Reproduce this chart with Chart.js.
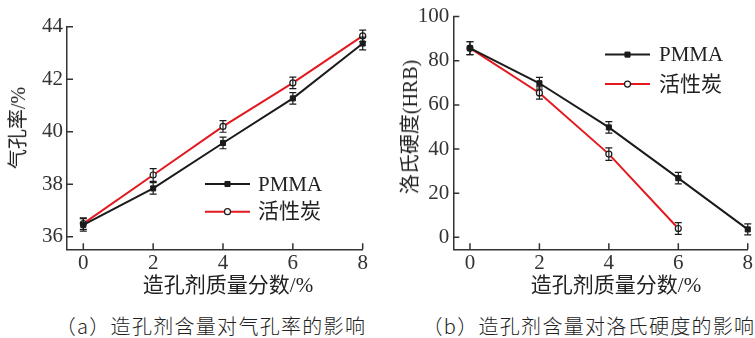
<!DOCTYPE html>
<html>
<head>
<meta charset="utf-8">
<script src="https://cdn.jsdelivr.net/npm/chart.js@4.4.1/dist/chart.umd.min.js"></script>
<style>
  html, body { margin: 0; padding: 0; background: #fff; }
  #wrap { position: relative; width: 755px; height: 338px; overflow: hidden;
          font-family: "Liberation Serif", "Noto Sans CJK SC", serif; color: #222; }
  .cv { position: absolute; top: 0; }
  .t { position: absolute; white-space: nowrap; font-size: 21px; line-height: 1;
       transform: translate(-50%, -50%); }
  .ty { transform: translate(-50%, -50%) rotate(-90deg); }
  .cap { font-family: "Noto Sans CJK SC", sans-serif; font-size: 20px; font-weight: 300;
         letter-spacing: 1.3px; }
</style>
</head>
<body>
<div id="wrap">
  <canvas id="porosity" class="cv" style="left:0" width="380" height="300"></canvas>
  <canvas id="hardness" class="cv" style="left:380px" width="375" height="300"></canvas>

  <div class="t" style="left:228px; top:285px">造孔剂质量分数/%</div>
  <div class="t ty" style="left:18px; top:128px; font-size:20px">气孔率/%</div>
  <div class="t" style="left:616px; top:285px">造孔剂质量分数/%</div>
  <div class="t ty" style="left:410px; top:127px; font-size:20px">洛氏硬度(HRB)</div>

  <div class="t cap" style="left:211px; top:326px">（a）造孔剂含量对气孔率的影响</div>
  <div class="t cap" style="left:589px; top:326px">（b）造孔剂含量对洛氏硬度的影响</div>
</div>

<script>
// Pore-former mass fraction (%)
const massFraction = [0, 2, 4, 6, 8];
const carbonFraction = [0, 2, 4, 6];

// Porosity (%) with standard deviation
const porosityPMMA = [36.45, 37.84, 39.57, 41.27, 43.36];
const porosityPMMAErr = [0.24, 0.22, 0.22, 0.22, 0.24];
const porosityCarbon = [36.5, 38.35, 40.2, 41.86, 43.65];
const porosityCarbonErr = [0.22, 0.24, 0.22, 0.22, 0.22];

// Rockwell hardness (HRB) with standard deviation
const hardnessPMMA = [85.7, 69.8, 49.8, 26.8, 3.6];
const hardnessPMMAErr = [2.9, 2.7, 2.6, 2.6, 2.5];
const hardnessCarbon = [85.7, 65.4, 37.7, 4.0];
const hardnessCarbonErr = [2.9, 2.8, 2.8, 2.7];

// Tick values
const xTicks = [0, 2, 4, 6, 8];
const porosityTicks = [36, 38, 40, 42, 44];
const hardnessTicks = [0, 20, 40, 60, 80, 100];

const seriesNames = ['PMMA', '活性炭'];

const AXIS_COLOR = '#333';
const BLACK = '#1b1b1b';
const RED = '#e3191f';
const TICK_FONT = { family: '"Liberation Serif", serif', size: 21 };

const toPoints = (xs, ys) => xs.map((x, i) => ({ x, y: ys[i] }));

// Short tick marks pointing into the plot area
const inwardTicks = {
  id: 'inwardTicks',
  afterDraw(chart, args, opts) {
    const { ctx, chartArea } = chart;
    const len = opts.length || 6;
    ctx.save();
    ctx.strokeStyle = AXIS_COLOR;
    ctx.lineWidth = 1.5;
    ctx.beginPath();
    const xs = chart.scales.x, ys = chart.scales.y;
    xs.ticks.forEach(t => {
      const px = xs.getPixelForValue(t.value);
      ctx.moveTo(px, chartArea.bottom);
      ctx.lineTo(px, chartArea.bottom - len);
    });
    ys.ticks.forEach(t => {
      const py = ys.getPixelForValue(t.value);
      ctx.moveTo(chartArea.left, py);
      ctx.lineTo(chartArea.left + len, py);
    });
    ctx.stroke();
    ctx.restore();
  }
};

// Vertical error bars with caps
const errorBars = {
  id: 'errorBars',
  afterDatasetsDraw(chart) {
    const { ctx } = chart;
    const ys = chart.scales.y;
    ctx.save();
    ctx.strokeStyle = BLACK;
    ctx.lineWidth = 1.2;
    chart.data.datasets.forEach((ds, di) => {
      const meta = chart.getDatasetMeta(di);
      if (!ds.errors) return;
      meta.data.forEach((pt, i) => {
        const v = ds.data[i].y, e = ds.errors[i];
        const top = ys.getPixelForValue(v + e);
        const bot = ys.getPixelForValue(v - e);
        const cap = 3.5;
        ctx.beginPath();
        ctx.moveTo(pt.x, top); ctx.lineTo(pt.x, bot);
        ctx.moveTo(pt.x - cap, top); ctx.lineTo(pt.x + cap, top);
        ctx.moveTo(pt.x - cap, bot); ctx.lineTo(pt.x + cap, bot);
        ctx.stroke();
      });
    });
    ctx.restore();
  }
};

// Line-and-marker legend placed inside the plot area
const sampleLegend = {
  id: 'sampleLegend',
  afterDraw(chart, args, opts) {
    const { ctx, chartArea } = chart;
    ctx.save();
    chart.data.datasets.forEach((ds, i) => {
      const x0 = chartArea.left + opts.dx;
      const y = chartArea.top + opts.dy + i * opts.rowGap;
      ctx.strokeStyle = ds.borderColor;
      ctx.lineWidth = ds.borderWidth;
      ctx.beginPath();
      ctx.moveTo(x0, y);
      ctx.lineTo(x0 + opts.lineLen, y);
      ctx.stroke();
      ctx.fillStyle = ds.pointBackgroundColor;
      ctx.strokeStyle = ds.pointBorderColor;
      ctx.lineWidth = ds.pointBorderWidth;
      Chart.helpers.drawPoint(ctx, {
        pointStyle: ds.pointStyle, radius: ds.pointRadius,
        borderWidth: ds.pointBorderWidth, rotation: 0
      }, x0 + opts.lineLen / 2, y);
      ctx.fillStyle = '#222';
      ctx.font = '21px "Liberation Serif", "Noto Sans CJK SC", serif';
      ctx.textBaseline = 'middle';
      ctx.textAlign = 'left';
      ctx.fillText(ds.label, x0 + opts.lineLen + opts.textGap, y + 1);
    });
    ctx.restore();
  }
};

function makeDatasets(pmmaX, pmmaY, pmmaErr, cX, cY, cErr) {
  return [
    {
      label: seriesNames[0],
      data: toPoints(pmmaX, pmmaY),
      errors: pmmaErr,
      borderColor: BLACK, borderWidth: 2,
      pointStyle: 'rect', pointRadius: 3.6,
      pointBackgroundColor: BLACK, pointBorderColor: BLACK, pointBorderWidth: 1,
      tension: 0, clip: false
    },
    {
      label: seriesNames[1],
      data: toPoints(cX, cY),
      errors: cErr,
      borderColor: RED, borderWidth: 2,
      pointStyle: 'circle', pointRadius: 3,
      pointBackgroundColor: '#fff', pointBorderColor: BLACK, pointBorderWidth: 1.2,
      tension: 0, clip: false
    }
  ];
}

function makeOptions(cfg) {
  return {
    responsive: false,
    animation: false,
    events: [],
    layout: { padding: { left: 0, top: cfg.top, right: cfg.right, bottom: 0 } },
    plugins: {
      legend: { display: false },
      tooltip: { enabled: false },
      sampleLegend: cfg.legend,
      inwardTicks: { length: 6 }
    },
    scales: {
      x: {
        type: 'linear', min: cfg.xMin, max: 8,
        afterBuildTicks: s => { s.ticks = xTicks.map(v => ({ value: v })); },
        afterFit: s => { s.height = cfg.xHeight; },
        grid: { display: false, drawTicks: false },
        border: { display: true, color: AXIS_COLOR, width: 1.5 },
        ticks: { font: TICK_FONT, color: '#333', padding: 2 }
      },
      y: {
        type: 'linear', min: cfg.yMin, max: cfg.yMax,
        afterBuildTicks: s => { s.ticks = cfg.yTicks.map(v => ({ value: v })); },
        afterFit: s => { s.width = cfg.yWidth; },
        grid: { display: false, drawTicks: false },
        border: { display: true, color: AXIS_COLOR, width: 1.5 },
        ticks: { font: TICK_FONT, color: '#333', padding: 4 }
      }
    }
  };
}

new Chart(document.getElementById('porosity'), {
  type: 'line',
  data: { datasets: makeDatasets(massFraction, porosityPMMA, porosityPMMAErr,
                                 massFraction, porosityCarbon, porosityCarbonErr) },
  options: makeOptions({
    top: 26.7, right: 17.3, xHeight: 50.7, yWidth: 67,
    xMin: -0.467, yMin: 35.52, yMax: 44, yTicks: porosityTicks,
    legend: { dx: 138, dy: 157.3, rowGap: 27.7, lineLen: 45, textGap: 8 }
  }),
  plugins: [errorBars, inwardTicks, sampleLegend]
});

new Chart(document.getElementById('hardness'), {
  type: 'line',
  data: { datasets: makeDatasets(massFraction, hardnessPMMA, hardnessPMMAErr,
                                 carbonFraction, hardnessCarbon, hardnessCarbonErr) },
  options: makeOptions({
    top: 16, right: 6.7, xHeight: 50.7, yWidth: 73.3,
    xMin: -0.48, yMin: -5.42, yMax: 100, yTicks: hardnessTicks,
    legend: { dx: 151.7, dy: 38, rowGap: 29.5, lineLen: 45, textGap: 9 }
  }),
  plugins: [errorBars, inwardTicks, sampleLegend]
});
</script>
</body>
</html>
